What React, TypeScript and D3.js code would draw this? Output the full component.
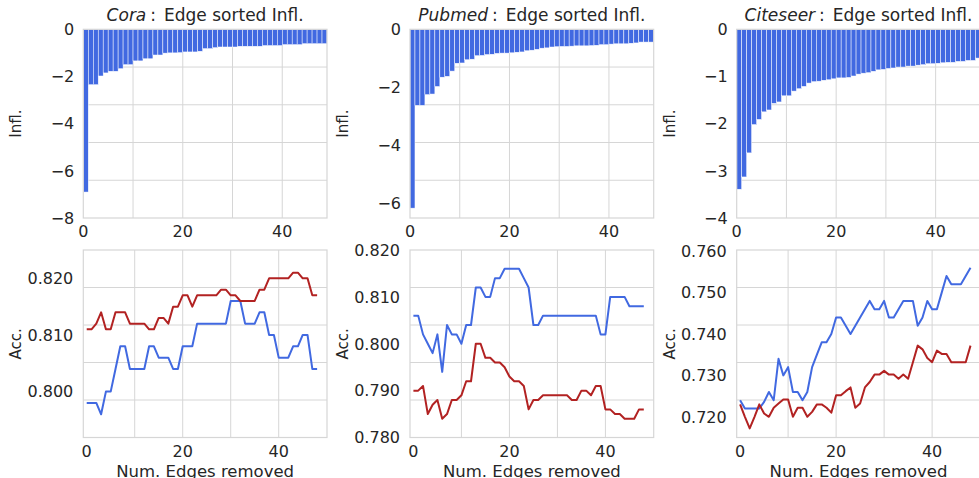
import * as d3 from "d3";

// sorted influence of the first 49 edges (top row)
const coraInfl = [
  -6.9, -2.35, -2.35, -1.98, -1.85, -1.78, -1.78, -1.67, -1.5, -1.5,
  -1.34, -1.34, -1.25, -1.25, -1.09, -1.09, -1.01, -1.0, -1.0, -0.99,
  -0.96, -0.96, -0.96, -0.93, -0.82, -0.82, -0.78, -0.75, -0.75, -0.75,
  -0.75, -0.72, -0.72, -0.72, -0.72, -0.72, -0.69, -0.69, -0.69, -0.69,
  -0.65, -0.65, -0.65, -0.65, -0.61, -0.61, -0.61, -0.61, -0.61,
];
const pubmedInfl = [
  -6.16, -2.62, -2.62, -2.25, -2.23, -1.97, -1.65, -1.62, -1.44, -1.17,
  -1.16, -1.05, -1.03, -0.91, -0.9, -0.87, -0.86, -0.83, -0.82, -0.82,
  -0.81, -0.79, -0.78, -0.74, -0.72, -0.69, -0.65, -0.64, -0.61, -0.6,
  -0.59, -0.59, -0.58, -0.57, -0.57, -0.57, -0.56, -0.55, -0.53, -0.53,
  -0.51, -0.5, -0.5, -0.5, -0.48, -0.47, -0.44, -0.44, -0.44,
];
const citeseerInfl = [
  -3.39, -3.13, -2.62, -2.02, -1.91, -1.75, -1.71, -1.57, -1.54, -1.41,
  -1.41, -1.31, -1.26, -1.21, -1.14, -1.11, -1.1, -1.08, -1.07, -1.05,
  -1.03, -1.03, -1.02, -0.99, -0.95, -0.93, -0.92, -0.89, -0.86, -0.85,
  -0.83, -0.82, -0.8, -0.8, -0.78, -0.78, -0.76, -0.75, -0.73, -0.73,
  -0.72, -0.71, -0.7, -0.7, -0.68, -0.68, -0.66, -0.66, -0.61,
];

// accuracy after removing n edges (bottom row)
const coraBlue = [
  0.798, 0.798, 0.798, 0.796, 0.8, 0.8, 0.804, 0.808, 0.808, 0.804,
  0.804, 0.804, 0.804, 0.808, 0.808, 0.806, 0.806, 0.806, 0.804, 0.804,
  0.808, 0.808, 0.808, 0.812, 0.812, 0.812, 0.812, 0.812, 0.812, 0.812,
  0.816, 0.816, 0.816, 0.812, 0.812, 0.812, 0.814, 0.814, 0.81, 0.81,
  0.806, 0.806, 0.806, 0.808, 0.808, 0.81, 0.81, 0.804, 0.804,
];
const coraRed = [
  0.811, 0.811, 0.812, 0.814, 0.811, 0.811, 0.814, 0.814, 0.814, 0.812,
  0.812, 0.812, 0.812, 0.811, 0.811, 0.813, 0.813, 0.812, 0.815, 0.815,
  0.817, 0.817, 0.815, 0.817, 0.817, 0.817, 0.817, 0.817, 0.818, 0.818,
  0.817, 0.817, 0.816, 0.816, 0.816, 0.816, 0.818, 0.818, 0.82, 0.82,
  0.82, 0.82, 0.82, 0.821, 0.821, 0.82, 0.82, 0.817, 0.817,
];
const pubmedBlue = [
  0.806, 0.806, 0.802, 0.8, 0.798, 0.802, 0.794, 0.804, 0.802, 0.802,
  0.8, 0.804, 0.804, 0.812, 0.812, 0.81, 0.81, 0.814, 0.814, 0.816,
  0.816, 0.816, 0.816, 0.814, 0.812, 0.804, 0.804, 0.806, 0.806, 0.806,
  0.806, 0.806, 0.806, 0.806, 0.806, 0.806, 0.806, 0.806, 0.806, 0.802,
  0.802, 0.81, 0.81, 0.81, 0.81, 0.808, 0.808, 0.808, 0.808,
];
const pubmedRed = [
  0.79, 0.79, 0.791, 0.785, 0.787, 0.788, 0.784, 0.785, 0.788, 0.788,
  0.789, 0.792, 0.792, 0.8, 0.8, 0.797, 0.797, 0.796, 0.796, 0.795,
  0.793, 0.792, 0.792, 0.791, 0.786, 0.788, 0.788, 0.789, 0.789, 0.789,
  0.789, 0.789, 0.789, 0.788, 0.788, 0.79, 0.79, 0.789, 0.791, 0.791,
  0.786, 0.786, 0.785, 0.785, 0.784, 0.784, 0.784, 0.786, 0.786,
];
const citeseerBlue = [
  0.724, 0.722, 0.722, 0.722, 0.722, 0.7236, 0.726, 0.724, 0.734, 0.73,
  0.732, 0.726, 0.726, 0.724, 0.726, 0.732, 0.735, 0.738, 0.738, 0.74,
  0.744, 0.744, 0.742, 0.74, 0.742, 0.744, 0.746, 0.748, 0.746, 0.746,
  0.748, 0.744, 0.744, 0.746, 0.748, 0.748, 0.748, 0.742, 0.744, 0.748,
  0.746, 0.746, 0.75, 0.754, 0.752, 0.752, 0.752, 0.754, 0.756,
];
const citeseerRed = [
  0.723, 0.72, 0.7172, 0.72, 0.723, 0.7208, 0.72, 0.7222, 0.7232, 0.7242,
  0.7242, 0.72, 0.7222, 0.7222, 0.72, 0.7212, 0.723, 0.723, 0.7222, 0.721,
  0.7252, 0.7252, 0.7262, 0.7271, 0.7222, 0.7232, 0.7271, 0.7284, 0.7302, 0.7302,
  0.7311, 0.7302, 0.7302, 0.7292, 0.7302, 0.7292, 0.7332, 0.7372, 0.7363, 0.7342,
  0.7332, 0.736, 0.7352, 0.7352, 0.7332, 0.7332, 0.7332, 0.7332, 0.7372,
];

const datasets = ["Cora", "Pubmed", "Citeseer"];
const xTickLabels = [0, 20, 40];
const inflTicks = [
  [0, -2, -4, -6, -8],
  [0, -2, -4, -6],
  [0, -1, -2, -3, -4],
];
const accTicks = [
  [0.8, 0.81, 0.82],
  [0.78, 0.79, 0.8, 0.81, 0.82],
  [0.72, 0.73, 0.74, 0.75, 0.76],
];

// layout
const W = 979;
const H = 478;
const colLeft = [83.3, 410, 736.7];
const PW = 243.7;
const topRow = { y0: 29.3, y1: 218 };
const botRow = { y0: 250, y1: 437.5 };
const inflDomains = [[-8, 0], [-6.5, 0], [-4, 0]];
const accDomains = [[0.7919, 0.825], [0.78, 0.82], [0.715, 0.7603]];

const BLUE = "#4169e1";
const RED = "#b22222";
const GRID = "#d6d6d6";
const TEXT = "#262626";
const FONT = "DejaVu Sans, sans-serif";

// horizontal grid sits at fifths of the axes height
const fifths = (y0: number, y1: number) =>
  [1, 2, 3, 4].map((k) => y0 + ((y1 - y0) * k) / 5);

function Frame({ left, y0, y1 }: { left: number; y0: number; y1: number }) {
  return (
    <rect x={left} y={y0} width={PW} height={y1 - y0} fill="none" stroke={GRID} strokeWidth={1.2} />
  );
}

function InflPanel({ i, values }: { i: number; values: number[] }) {
  const left = colLeft[i];
  const { y0, y1 } = topRow;
  const x = d3.scaleLinear().domain([0, values.length]).range([left, left + PW]);
  const y = d3.scaleLinear().domain(inflDomains[i]).range([y1, y0]);
  const fmt = d3.format("d");
  return (
    <g>
      {fifths(y0, y1).map((gy) => (
        <line key={gy} x1={left} x2={left + PW} y1={gy} y2={gy} stroke={GRID} />
      ))}
      {x.ticks(5).filter((t) => t > 0).map((t) => (
        <line key={t} x1={x(t)} x2={x(t)} y1={y0} y2={y1} stroke={GRID} />
      ))}
      {values.map((v, k) => (
        <rect
          key={k}
          x={x(k)}
          y={y(0)}
          width={x(k + 1) - x(k)}
          height={y(v) - y(0)}
          fill={BLUE}
          stroke="#fff"
          strokeWidth={0.5}
        />
      ))}
      <Frame left={left} y0={y0} y1={y1} />
      {inflTicks[i].map((t) => (
        <text key={t} x={left - 9} y={y(t)} dy="0.36em" textAnchor="end" fontSize={16} fill={TEXT}>
          {fmt(t)}
        </text>
      ))}
      {xTickLabels.map((t) => (
        <text key={t} x={x(t)} y={y1 + 18.5} textAnchor="middle" fontSize={16} fill={TEXT}>
          {t}
        </text>
      ))}
      <text
        transform={`translate(${left - 62},${(y0 + y1) / 2}) rotate(-90)`}
        textAnchor="middle"
        fontSize={15}
        fill={TEXT}
      >
        Infl.
      </text>
      <text x={left + PW / 2} y={20.5} textAnchor="middle" fontSize={17} fill={TEXT}>
        <tspan fontStyle="italic">{datasets[i]}</tspan>
        <tspan dx={4}>:</tspan>
        <tspan dx={8}>Edge sorted Infl.</tspan>
      </text>
    </g>
  );
}

function AccPanel({ i, blue, red }: { i: number; blue: number[]; red: number[] }) {
  const left = colLeft[i];
  const { y0, y1 } = botRow;
  const x = d3.scaleLinear().domain([-0.71, 50.06]).range([left, left + PW]);
  const y = d3.scaleLinear().domain(accDomains[i]).range([y1, y0]);
  const line = d3
    .line<number>()
    .x((_, k) => x(k))
    .y((v) => y(v));
  const fmt = d3.format(".3f");
  return (
    <g>
      {fifths(y0, y1).map((gy) => (
        <line key={gy} x1={left} x2={left + PW} y1={gy} y2={gy} stroke={GRID} />
      ))}
      {[10, 20, 30, 40].map((t) => (
        <line key={t} x1={x(t)} x2={x(t)} y1={y0} y2={y1} stroke={GRID} />
      ))}
      <Frame left={left} y0={y0} y1={y1} />
      <path d={line(blue) ?? ""} fill="none" stroke={BLUE} strokeWidth={2} strokeLinejoin="round" />
      <path d={line(red) ?? ""} fill="none" stroke={RED} strokeWidth={2} strokeLinejoin="round" />
      {accTicks[i].map((t) => (
        <text key={t} x={left - 10} y={y(t)} dy="0.36em" textAnchor="end" fontSize={16} fill={TEXT}>
          {fmt(t)}
        </text>
      ))}
      {xTickLabels.map((t) => (
        <text key={t} x={x(t)} y={y1 + 19.5} textAnchor="middle" fontSize={16} fill={TEXT}>
          {t}
        </text>
      ))}
      <text
        transform={`translate(${left - 62},${(y0 + y1) / 2}) rotate(-90)`}
        textAnchor="middle"
        fontSize={15}
        fill={TEXT}
      >
        Acc.
      </text>
      <text x={left + PW / 2} y={476.5} textAnchor="middle" fontSize={16.5} fill={TEXT}>
        Num. Edges removed
      </text>
    </g>
  );
}

export default function App() {
  return (
    <div style={{ position: "fixed", left: 0, top: 0 }}>
      <svg width={W} height={H} fontFamily={FONT} style={{ display: "block", background: "#fff" }}>
        <InflPanel i={0} values={coraInfl} />
        <InflPanel i={1} values={pubmedInfl} />
        <InflPanel i={2} values={citeseerInfl} />
        <AccPanel i={0} blue={coraBlue} red={coraRed} />
        <AccPanel i={1} blue={pubmedBlue} red={pubmedRed} />
        <AccPanel i={2} blue={citeseerBlue} red={citeseerRed} />
      </svg>
    </div>
  );
}
